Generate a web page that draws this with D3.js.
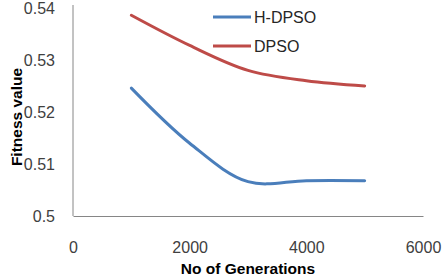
<!DOCTYPE html>
<html>
<head>
<meta charset="utf-8">
<script src="https://cdn.jsdelivr.net/npm/d3@7"></script>
<style>
  body { margin: 0; background: #fff; }
  #chart { width: 445px; height: 276px; }
  text { font-family: "Liberation Sans", Arial, sans-serif; }
</style>
</head>
<body>
<div id="chart"></div>
<script>
const generations = [1000, 2000, 3000, 4000, 5000];
const hdpso = [0.5246, 0.5140, 0.5066, 0.5068, 0.5068];
const dpso = [0.5386, 0.5328, 0.5280, 0.5260, 0.5250];
const xTicks = [0, 2000, 4000, 6000];
const yTicks = [0.5, 0.51, 0.52, 0.53, 0.54];
const seriesNames = ["H-DPSO", "DPSO"];
const seriesColors = ["#4a7ebb", "#be4b48"];

const W = 445, H = 276;
const svg = d3.select("#chart").append("svg")
    .attr("width", W)
    .attr("height", H);

const x = d3.scaleLinear().domain([0, 6000]).range([73, 423]);
const y = d3.scaleLinear().domain([0.5, 0.54]).range([216, 8]);

// axes (no tick marks, grey axis lines)
const xAxis = svg.append("g")
    .attr("transform", `translate(0,${y(0.5)})`)
    .call(d3.axisBottom(x).tickValues(xTicks).tickSize(0).tickFormat(d3.format("d")));
const yAxis = svg.append("g")
    .attr("transform", `translate(${x(0)},0)`)
    .call(d3.axisLeft(y).tickValues(yTicks).tickSize(0).tickPadding(18).tickFormat(d => d3.format("")(+d.toFixed(2))));

[xAxis, yAxis].forEach(g => {
    g.select(".domain").attr("stroke", "#868686").attr("stroke-width", 1);
    g.selectAll("text")
        .style("font-size", "16px")
        .attr("fill", "#404040");
});
xAxis.selectAll("text").attr("dy", "0.35em").attr("y", 31);
yAxis.select(".domain").attr("d", `M0,${y(0.5)}V5`);

// series
const line = d3.line()
    .x(d => x(d[0]))
    .y(d => y(d[1]))
    .curve(d3.curveCatmullRom.alpha(0.5));

[hdpso, dpso].forEach((vals, i) => {
    svg.append("path")
        .datum(generations.map((g, j) => [g, vals[j]]))
        .attr("fill", "none")
        .attr("stroke", seriesColors[i])
        .attr("stroke-width", 3)
        .attr("stroke-linecap", "round")
        .attr("d", line);
});

// legend
const legend = svg.append("g");
seriesNames.forEach((name, i) => {
    const ly = 17 + i * 29;
    legend.append("line")
        .attr("x1", 213).attr("x2", 251)
        .attr("y1", ly).attr("y2", ly)
        .attr("stroke", seriesColors[i])
        .attr("stroke-width", 3);
    legend.append("text")
        .attr("x", 254)
        .attr("y", ly)
        .attr("dy", "0.35em")
        .style("font-size", "16px")
        .attr("fill", "#262626")
        .text(name);
});

// axis titles
svg.append("text")
    .attr("x", 248)
    .attr("y", 269)
    .attr("dy", "0.35em")
    .attr("text-anchor", "middle")
    .style("font-size", "15.5px")
    .style("font-weight", "bold")
    .text("No of Generations");

svg.append("text")
    .attr("transform", "rotate(-90)")
    .attr("x", -117)
    .attr("y", 17)
    .attr("dy", "0.35em")
    .attr("text-anchor", "middle")
    .style("font-size", "15.5px")
    .style("font-weight", "bold")
    .text("Fitness value");
</script>
</body>
</html>
